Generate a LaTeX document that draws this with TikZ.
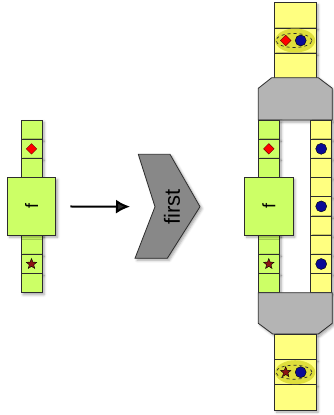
\documentclass[tikz,border=0pt]{standalone}
\usepackage{fontspec}
\setsansfont{Liberation Sans}
\usetikzlibrary{positioning, arrows.meta, shapes.geometric, shadows.blur}
\definecolor{limegreen}{RGB}{204,255,102}
\definecolor{paleyellow}{RGB}{255,255,128}
\definecolor{glowyellow}{RGB}{222,222,60}
\definecolor{linkgray}{RGB}{180,180,180}
\definecolor{chevgray}{RGB}{136,136,136}
\definecolor{darkline}{RGB}{45,45,45}
\definecolor{dotblue}{RGB}{10,10,150}
\definecolor{stardark}{RGB}{140,20,20}
\pgfdeclareradialshading{glow}{\pgfpoint{0bp}{0bp}}{color(0bp)=(glowyellow); color(24bp)=(glowyellow); color(50bp)=(paleyellow)}
\tikzset{>={Latex[length=14pt,width=14pt]}, % big filled arrow head
cast/.style={blur shadow={shadow xshift=2pt, shadow yshift=-2pt, shadow blur radius=2.5pt, shadow opacity=35}},
cell/.style={draw=darkline, line width=0.8pt, inner sep=0pt, outer sep=0pt, minimum width=21pt, minimum height=19.2pt, cast},
gcell/.style={cell, fill=limegreen},
ycell/.style={cell, fill=paleyellow},
wcell/.style={cell, fill=paleyellow, minimum width=41.7pt, minimum height=25.2pt},
fbox/.style={cell, fill=limegreen, minimum width=48.3pt, minimum height=57.6pt, font=\sffamily\fontsize{18}{18}\selectfont},
link/.style={draw=darkline, line width=0.8pt, fill=linkgray, cast},
chevron/.style={draw=darkline, line width=0.8pt, fill=chevgray, cast},
dashgroup/.style={draw=darkline, dashed, ellipse, line width=0.7pt, minimum width=36pt, minimum height=14pt, inner sep=0pt},
reddiamond/.style={diamond, draw=red!45!black, fill=red, minimum size=10.7pt, inner sep=0pt},
bluedot/.style={circle, draw=black, fill=dotblue, minimum size=11pt, inner sep=0pt},
darkstar/.style={star, star points=5, star point ratio=2.3, draw=black, fill=stardark, minimum size=11pt, inner sep=0pt},
}
\begin{document}
\begin{tikzpicture}[x=1pt, y=-1pt]
  \useasboundingbox (0,0) rectangle (334,415);

  % left: the cell with f
  \node[gcell] (l1) at (31.5,129.6) {};
  \foreach \i [count=\j from 2] in {1,...,8}
    \node[gcell, below=0pt of l\i] (l\j) {};
  \node[fbox] (lbox) at (l5) {\rotatebox{90}{f}};
  \node[reddiamond] (ldia) at (l2) {};
  \node[darkstar] (lstar) at (l8) {};

  % the operation
  \draw[chevron] (138.3,154.3) -- (170,154.3) -- (200,206.7) -- (167.3,258.3) -- (135,258.3) -- (155,206.7) -- cycle;
  \node[rotate=90, font=\sffamily\fontsize{22}{22}\selectfont] (first) at (172,206.7) {first};
  \coordinate (notch) at (155,206.7);
  \draw[->, line width=2pt, shorten <=14.7pt, shorten >=25pt] (lbox) -- (notch);

  % right: top pair cell
  \node[wcell] (t1) at (295.2,15.3) {};
  \node[wcell, below=0pt of t1] (t2) {};
  \node[wcell, below=0pt of t2] (t3) {};
  \shade[shading=glow, xshift=-1.2pt] (t2) ellipse (20pt and 12pt);
  \node[dashgroup, xshift=-1.2pt] (tpair) at (t2) {};
  \node[reddiamond, xshift=-9.5pt] (tdia) at (t2) {};
  \node[bluedot, xshift=5.5pt] (tdot) at (t2) {};

  \draw[link] (271.7,77.7) -- (318.3,77.7) -- (332.3,88.3) -- (332.3,120) -- (258.3,120) -- (258.3,88.3) -- cycle;

  % right: f next to the second cell
  \node[gcell] (g1) at (268.8,129.6) {};
  \node[ycell] (y1) at (321.2,129.6) {};
  \foreach \i [count=\j from 2] in {1,...,8} {
    \node[gcell, below=0pt of g\i] (g\j) {};
    \node[ycell, below=0pt of y\i] (y\j) {};
  }
  \node[fbox] (rbox) at (g5) {\rotatebox{90}{f}};
  \node[reddiamond] (rdia) at (g2) {};
  \node[darkstar] (rstar) at (g8) {};
  \node[bluedot] (ydot1) at (y2) {};
  \node[bluedot] (ydot2) at (y5) {};
  \node[bluedot] (ydot3) at (y8) {};

  \draw[link] (258.3,292.7) -- (332.3,292.7) -- (332.3,323.3) -- (318.3,334) -- (272.7,334) -- (258.3,323.3) -- cycle;

  % right: bottom pair cell
  \node[wcell] (b1) at (295.2,347) {};
  \node[wcell, below=0pt of b1] (b2) {};
  \node[wcell, below=0pt of b2] (b3) {};
  \shade[shading=glow, xshift=-1.2pt] (b2) ellipse (20pt and 12pt);
  \node[dashgroup, xshift=-1.2pt] (bpair) at (b2) {};
  \node[darkstar, xshift=-9.5pt] (bstar) at (b2) {};
  \node[bluedot, xshift=5.5pt] (bdot) at (b2) {};
\end{tikzpicture}
\end{document}
